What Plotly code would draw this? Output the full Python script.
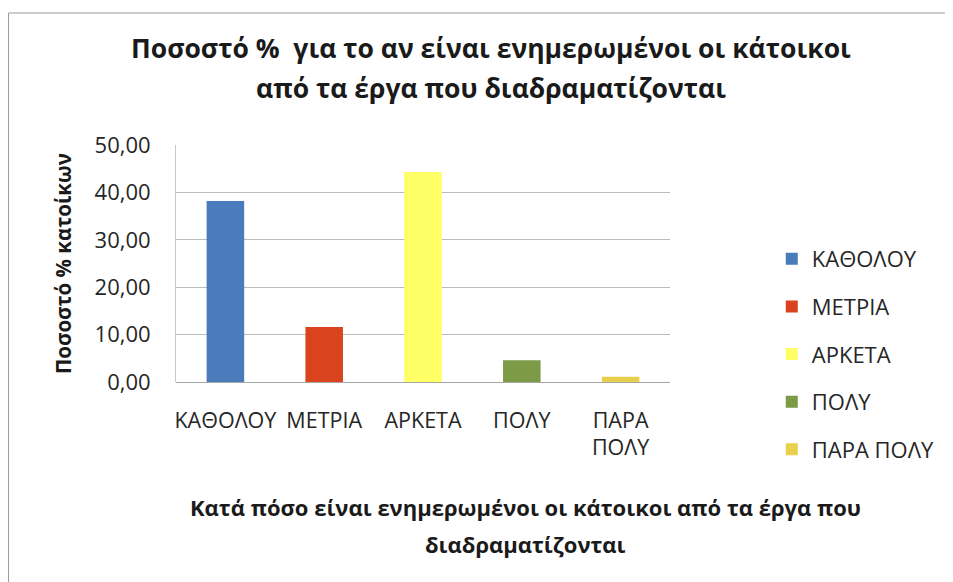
import plotly.graph_objects as go

categories = ["ΚΑΘΟΛΟΥ", "ΜΕΤΡΙΑ", "ΑΡΚΕΤΑ", "ΠΟΛΥ", "ΠΑΡΑ ΠΟΛΥ"]
tick_labels = ["ΚΑΘΟΛΟΥ", "ΜΕΤΡΙΑ", "ΑΡΚΕΤΑ", "ΠΟΛΥ", "ΠΑΡΑ<br>ΠΟΛΥ"]
values = [38.2, 11.6, 44.3, 4.6, 1.1]
colors = ["#4a7cbc", "#d9441f", "#ffff66", "#7d9a47", "#e8d04c"]
title_lines = ["Ποσοστό %  για το αν είναι ενημερωμένοι οι κάτοικοι",
               "από τα έργα που διαδραματίζονται"]
xtitle_lines = ["Κατά πόσο είναι ενημερωμένοι οι κάτοικοι από τα έργα που",
                "διαδραματίζονται"]
ytitle = "Ποσοστό % κατοίκων"

font_family = "Open Sans, Noto Sans, DejaVu Sans"

fig = go.Figure()
for cat, lab, val, col in zip(categories, tick_labels, values, colors):
    fig.add_trace(go.Bar(
        x=[lab], y=[val], name=cat, marker=dict(color=col, line=dict(width=0)),
        width=0.38, legendgroup=cat,
    ))

fig.update_layout(
    width=945, height=574,
    paper_bgcolor="white", plot_bgcolor="white",
    separators=",.",
    barmode="relative",
    margin=dict(l=168, r=283, t=137, b=200),
    font=dict(family=font_family, color="#262626"),
    legend=dict(
        x=1.206, xanchor="left", y=0.118, yanchor="middle",
        font=dict(size=22, color="#262626"),
        tracegroupgap=16, itemwidth=30,
        traceorder="grouped", maxheight=400,
    ),
    showlegend=True,
)

# chart title (two lines)
for txt, yy in zip(title_lines, [1.409, 1.2405]):
    fig.add_annotation(text="<b>" + txt + "</b>", xref="paper", yref="paper",
                       x=0.638, y=yy, xanchor="center", yanchor="middle",
                       showarrow=False, font=dict(size=26.5, color="#1a1a1a"))

# x-axis title (two lines)
for txt, yy in zip(xtitle_lines, [-0.527, -0.682]):
    fig.add_annotation(text="<b>" + txt + "</b>", xref="paper", yref="paper",
                       x=0.7065, y=yy, xanchor="center", yanchor="middle",
                       showarrow=False, font=dict(size=22, color="#1a1a1a"))

fig.update_xaxes(
    categoryorder="array", categoryarray=tick_labels,
    tickfont=dict(size=21.5, color="#262626"),
    showline=False, ticks="", ticklabelstandoff=23,
)
fig.update_yaxes(
    range=[0, 50], dtick=10, tickformat=".2f",
    tickfont=dict(size=22, color="#262626"),
    showgrid=True, gridcolor="#bcbcbc", gridwidth=1,
    zeroline=True, zerolinecolor="#a6a6a6", zerolinewidth=1,
    showline=True, linecolor="#c8c8c8", linewidth=1,
    ticks="", ticklen=0, ticklabelstandoff=20,
    title=dict(text="<b>" + ytitle + "</b>", font=dict(size=20.5, color="#1a1a1a"), standoff=17),
)

fig.add_shape(type="rect", xref="paper", yref="paper",
              x0=-0.339, x1=1.563, y0=-0.86, y1=1.557,
              line=dict(color="#9a9a9a", width=1))

fig.write_html("out.html")
